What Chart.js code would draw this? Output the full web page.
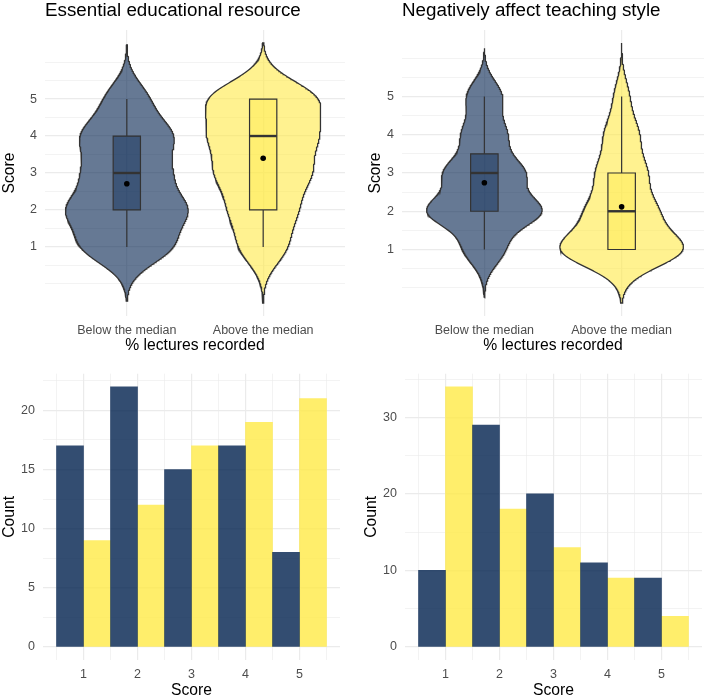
<!DOCTYPE html>
<html>
<head>
<meta charset="utf-8">
<script src="https://cdn.jsdelivr.net/npm/chart.js@4.4.1/dist/chart.umd.min.js"></script>
<style>
  body { margin: 0; background: #ffffff; }
  canvas { position: absolute; }
</style>
</head>
<body>
<canvas id="violinEssential" width="354" height="356" style="left:0;top:0"></canvas>
<canvas id="violinNegative" width="354" height="356" style="left:354px;top:0"></canvas>
<canvas id="barsEssential" width="354" height="344" style="left:0;top:356px"></canvas>
<canvas id="barsNegative" width="354" height="344" style="left:354px;top:356px"></canvas>
<script>
// Data (counts per score)
const scores = [1, 2, 3, 4, 5];
const groups = ['Below the median', 'Above the median'];
const essentialBelow = [17, 22, 15, 17, 8];
const essentialAbove = [9, 12, 17, 19, 21];
const negativeBelow = [10, 29, 20, 11, 9];
const negativeAbove = [34, 18, 13, 9, 4];

// tick labels
const scoreTicks = [1, 2, 3, 4, 5];
const essentialCountTicks = [0, 5, 10, 15, 20];
const negativeCountTicks = [0, 10, 20, 30];

const violinFill = ['rgba(0, 32, 77, 0.6)', 'rgba(255, 234, 70, 0.6)'];
const boxFill = ['rgba(0, 32, 77, 0.4)', 'rgba(255, 234, 70, 0.4)'];
const barFill = ['rgba(0, 32, 77, 0.8)', 'rgba(255, 234, 70, 0.8)'];
const lineColor = '#333333';
const gridColor = '#EBEBEB';
const tickColor = '#4D4D4D';

Chart.defaults.font.family = "'Liberation Sans', Arial, sans-serif";
Chart.defaults.color = tickColor;
Chart.defaults.animation = false;

// --- small stats helpers (same as R defaults used by ggplot) ---
function expand(counts) {
    const v = [];
    counts.forEach((c, i) => { for (let k = 0; k < c; k++) v.push(scores[i]); });
    return v;
}
function quantile(sorted, p) {
    const h = (sorted.length - 1) * p;
    const lo = Math.floor(h);
    const hi = Math.min(lo + 1, sorted.length - 1);
    return sorted[lo] + (h - lo) * (sorted[hi] - sorted[lo]);
}
function bwNrd0(v) {
    const n = v.length;
    const mean = v.reduce((a, b) => a + b, 0) / n;
    const sd = Math.sqrt(v.reduce((a, b) => a + (b - mean) ** 2, 0) / (n - 1));
    const iqr = quantile(v, 0.75) - quantile(v, 0.25);
    return 0.9 * Math.min(sd, iqr / 1.34) * Math.pow(n, -0.2);
}
function kde(v) {
    const bw = bwNrd0(v);
    const n = v.length;
    const from = v[0] - 3 * bw, to = v[n - 1] + 3 * bw;
    const ys = [], ds = [];
    for (let i = 0; i < 512; i++) {
        const y = from + (to - from) * i / 511;
        let s = 0;
        for (const x of v) { const z = (y - x) / bw; s += Math.exp(-0.5 * z * z); }
        ys.push(y);
        ds.push(s / (n * bw * Math.sqrt(2 * Math.PI)));
    }
    return { from, to, ys, ds };
}
function boxStats(v) {
    const q1 = quantile(v, 0.25), med = quantile(v, 0.5), q3 = quantile(v, 0.75);
    const iqr = q3 - q1;
    const inside = v.filter(x => x >= q1 - 1.5 * iqr && x <= q3 + 1.5 * iqr);
    const mean = v.reduce((a, b) => a + b, 0) / v.length;
    return { q1, med, q3, lo: Math.min(...inside), hi: Math.max(...inside), mean };
}
// major breaks plus the half-way minor lines, kept within the panel
function gridValues(major, min, max) {
    const step = major[1] - major[0];
    const out = [];
    for (let v = major[0] - step; v <= major[major.length - 1] + step + 1e-9; v += step / 2) {
        if (v >= min && v <= max) out.push(Math.round(v * 1000) / 1000);
    }
    return out;
}

const tickFont = { size: 12.5 };
const axisTitleFont = { size: 15.7 };
const majorW = 1.2, minorW = 0.6;

function line(points, color, width, order) {
    return { data: points, showLine: true, fill: false, borderColor: color, borderWidth: width, pointRadius: 0, order: order };
}

function violinChart(id, title, below, above, geom) {
    const samples = [below, above].map(expand);
    const dens = samples.map(kde);
    const maxD = Math.max(...dens.map(d => Math.max(...d.ds)));
    let lo = Math.min(...dens.map(d => d.from)), hi = Math.max(...dens.map(d => d.to));
    const span = hi - lo;
    lo -= 0.05 * span; hi += 0.05 * span;

    const datasets = [];
    const means = [];
    dens.forEach((d, g) => {
        const x0 = g + 1;
        const right = d.ys.map((y, i) => ({ x: x0 + 0.45 * d.ds[i] / maxD, y }));
        const left = d.ys.map((y, i) => ({ x: x0 - 0.45 * d.ds[i] / maxD, y })).reverse();
        datasets.push({
            data: right.concat(left, [right[0]]), showLine: true, fill: 'shape',
            backgroundColor: violinFill[g], borderColor: lineColor, borderWidth: 1.3,
            pointRadius: 0, order: 5
        });
        const s = boxStats(samples[g]);
        datasets.push({
            data: [{ x: x0 - 0.1, y: s.q1 }, { x: x0 + 0.1, y: s.q1 }, { x: x0 + 0.1, y: s.q3 },
                   { x: x0 - 0.1, y: s.q3 }, { x: x0 - 0.1, y: s.q1 }],
            showLine: true, fill: 'shape', backgroundColor: boxFill[g], borderColor: lineColor,
            borderWidth: 1.2, borderCapStyle: 'square', pointRadius: 0, order: 3
        });
        datasets.push(line([{ x: x0, y: s.q3 }, { x: x0, y: s.hi }], lineColor, 1.2, 4));
        datasets.push(line([{ x: x0, y: s.q1 }, { x: x0, y: s.lo }], lineColor, 1.2, 4));
        datasets.push(line([{ x: x0 - 0.1, y: s.med }, { x: x0 + 0.1, y: s.med }], lineColor, 2.4, 2));
        means.push({ x: x0, y: s.mean });
    });
    datasets.push({ data: means, pointRadius: 2.8, pointBackgroundColor: '#000', pointBorderWidth: 0, order: 1 });

    new Chart(document.getElementById(id), {
        type: 'scatter',
        data: { datasets },
        options: {
            responsive: false,
            events: [],
            layout: { padding: { top: 0, left: 0, bottom: 0, right: geom.right } },
            plugins: {
                legend: { display: false },
                tooltip: { enabled: false },
                title: {
                    display: true, text: title, align: 'start', fullSize: false,
                    color: '#000', font: { size: 18.8, weight: 'normal' },
                    padding: { top: 0, bottom: 7.44 }
                }
            },
            scales: {
                x: {
                    type: 'linear', min: 0.4, max: 2.6,
                    afterBuildTicks: s => { s.ticks = [{ value: 1 }, { value: 2 }]; },
                    afterFit: s => { s.height = 40; },
                    ticks: { callback: v => groups[v - 1], font: tickFont, color: tickColor, padding: 7, maxRotation: 0, autoSkip: false },
                    grid: { color: gridColor, lineWidth: majorW, drawTicks: false },
                    border: { display: false },
                    title: { display: true, text: '% lectures recorded', color: '#000', font: axisTitleFont, padding: { top: 0, bottom: 1.1 } }
                },
                y: {
                    min: lo, max: hi,
                    afterBuildTicks: s => { s.ticks = gridValues(scoreTicks, lo, hi).map(v => ({ value: v })); },
                    afterFit: s => { s.width = geom.left; },
                    ticks: { callback: v => scoreTicks.includes(v) ? String(v) : '', font: tickFont, color: tickColor, padding: 8, autoSkip: false },
                    grid: { color: gridColor, lineWidth: c => scoreTicks.includes(c.tick.value) ? majorW : minorW, drawTicks: false },
                    border: { display: false },
                    title: { display: true, text: 'Score', color: '#000', font: axisTitleFont, padding: { top: geom.titlePad, bottom: 0 } }
                }
            }
        }
    });
}

function barChart(id, below, above, countTicks, geom) {
    const maxCount = Math.max(...below, ...above);
    const yMin = -0.05 * maxCount, yMax = maxCount * 1.05;
    const xMin = 0.25, xMax = 5.75;
    const xMinor = gridValues(scores, xMin, xMax).filter(v => !scores.includes(v));

    new Chart(document.getElementById(id), {
        type: 'bar',
        data: {
            datasets: [below, above].map((counts, g) => ({
                label: groups[g],
                data: scores.map((s, i) => ({ x: s, y: counts[i] })),
                backgroundColor: barFill[g],
                borderWidth: 0,
                categoryPercentage: 1,
                barPercentage: 1,
                xAxisID: 'x'
            }))
        },
        options: {
            responsive: false,
            events: [],
            layout: { padding: { top: 17.7, left: 0, bottom: 0, right: geom.right } },
            plugins: { legend: { display: false }, tooltip: { enabled: false } },
            scales: {
                x: {
                    type: 'linear', min: xMin, max: xMax, offset: false,
                    afterBuildTicks: s => { s.ticks = scores.map(v => ({ value: v })); },
                    afterFit: s => { s.height = 40; },
                    ticks: { font: tickFont, color: tickColor, padding: 6.7, maxRotation: 0, autoSkip: false },
                    grid: { color: gridColor, lineWidth: majorW, drawTicks: false, offset: false },
                    border: { display: false },
                    title: { display: true, text: 'Score', color: '#000', font: axisTitleFont, padding: { top: 0, bottom: 0 } }
                },
                xm: {
                    type: 'linear', axis: 'x', position: 'bottom', min: xMin, max: xMax, offset: false,
                    afterBuildTicks: s => { s.ticks = xMinor.map(v => ({ value: v })); },
                    afterFit: s => { s.height = 0; },
                    ticks: { display: false },
                    grid: { color: gridColor, lineWidth: minorW, drawTicks: false, offset: false },
                    border: { display: false }
                },
                y: {
                    min: yMin, max: yMax,
                    afterBuildTicks: s => { s.ticks = gridValues(countTicks, yMin, yMax).map(v => ({ value: v })); },
                    afterFit: s => { s.width = geom.left; },
                    ticks: { callback: v => countTicks.includes(v) ? String(v) : '', font: tickFont, color: tickColor, padding: 8, autoSkip: false },
                    grid: { color: gridColor, lineWidth: c => countTicks.includes(c.tick.value) ? majorW : minorW, drawTicks: false },
                    border: { display: false },
                    title: { display: true, text: 'Count', color: '#000', font: axisTitleFont, padding: { top: geom.titlePad, bottom: 0 } }
                }
            }
        }
    });
}

violinChart('violinEssential', 'Essential educational resource', essentialBelow, essentialAbove, { left: 45, right: 9, titlePad: 0 });
violinChart('violinNegative', 'Negatively affect teaching style', negativeBelow, negativeAbove, { left: 48, right: 4, titlePad: 12 });
barChart('barsEssential', essentialBelow, essentialAbove, essentialCountTicks, { left: 43, right: 14, titlePad: 0 });
barChart('barsNegative', negativeBelow, negativeAbove, negativeCountTicks, { left: 51, right: 6, titlePad: 8.6 });
</script>
</body>
</html>
